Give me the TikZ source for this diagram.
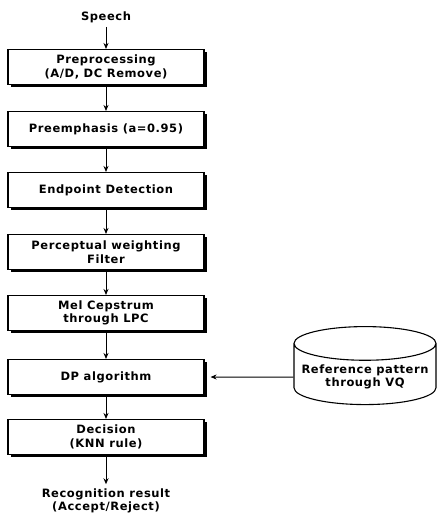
\documentclass[tikz,border=0pt]{standalone}
\usepackage{fontspec}
\setmainfont[LetterSpace=5]{DejaVu Sans}
\usetikzlibrary{shapes.geometric}
\usetikzlibrary{shadows}
\usetikzlibrary{arrows.meta}

\begin{document}
\begin{tikzpicture}
[x=1pt,y=-1pt,line width=1.1pt,%
  lineDecorate/.style={-{Stealth[length=6pt,width=5pt]},line width=1pt},%
  stepBox/.style={shape=rectangle,draw,line width=1.1pt,fill=white,align=center,
    minimum width=196pt,minimum height=35pt,inner sep=2pt,
    drop shadow={shadow xshift=2.5pt,shadow yshift=-2.5pt,fill=black,opacity=1}},%
  dbDecorate/.style={shape=cylinder,shape border rotate=90,draw,line width=1.1pt,
    aspect=0.25,minimum width=142pt,minimum height=69pt,align=center},%
  textDecorate/.style={align=center}]
\fontsize{11.5}{13.5}\selectfont\bfseries
\useasboundingbox (0,0) rectangle (437,517);
%% input and output texts
\node[textDecorate] (speech) at (106,17) {Speech};
\node[textDecorate] (result) at (106,501) {Recognition result\\(Accept/Reject)};
%% processing steps
\foreach \nodename/\y/\txt in {
  prep/67/{Preprocessing\\(A/D, DC Remove)},
  preemph/129/{Preemphasis (a=0.95)},
  endpoint/190/{Endpoint Detection},
  filter/252/{Perceptual weighting\\Filter},
  mel/313/{Mel Cepstrum\\through LPC},
  dp/377/{DP algorithm},
  decision/437/{Decision\\(KNN rule)}}
{
  \node[stepBox] (\nodename) at (106,\y) {\txt};
}
%% reference database
\node[dbDecorate] (refvq) at (365,377) {Reference pattern\\through VQ};
%% connect steps
\path
(speech) edge[lineDecorate] (prep)
(prep) edge[lineDecorate] (preemph)
(preemph) edge[lineDecorate] (endpoint)
(endpoint) edge[lineDecorate] (filter)
(filter) edge[lineDecorate] (mel)
(mel) edge[lineDecorate] (dp)
(dp) edge[lineDecorate] (decision)
(decision) edge[lineDecorate] (result)
(refvq) edge[lineDecorate,shorten >=6pt] (dp);
\end{tikzpicture}
\end{document}
